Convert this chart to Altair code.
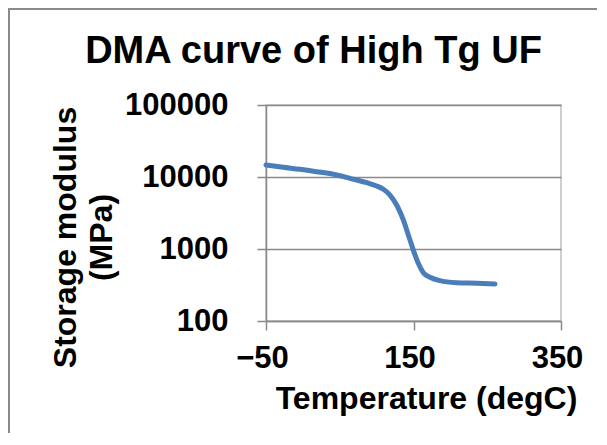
import altair as alt
import pandas as pd

# Curve
temperature = [-50, -26.5, -3.9, 18.7, 41.3, 63.9, 86.5, 100.1, 109.1, 118.1, 127.2,
               136.2, 143.0, 149.7, 156.5, 163.3, 172.4, 185.9, 208.6, 235.7, 260.5]
storage_modulus = [14680, 13650, 12800, 11860, 10900, 9590, 8340, 7500, 6750, 5620, 4080,
                   2530, 1565, 968, 632, 469, 405, 363, 340, 334, 327]

x_ticks = [-50, 150, 350]
y_ticks = [100, 1000, 10000, 100000]

df = pd.DataFrame({"T": temperature, "E": storage_modulus})

FONT = "Liberation Sans"

line = alt.Chart(df).mark_line(
    color="#4A7EBB", strokeWidth=5, strokeCap="round", strokeJoin="round",
    interpolate="monotone"
).encode(
    x=alt.X("T:Q",
            scale=alt.Scale(domain=[-50, 350], nice=False, zero=False),
            axis=alt.Axis(values=x_ticks, grid=False, format="d",
                          domainColor="#8a8a8a", domainWidth=1.5,
                          tickColor="#8a8a8a", tickWidth=1.5, tickSize=9,
                          labelFont=FONT, labelFontSize=31, labelFontWeight="bold",
                          labelColor="#000000", labelPadding=13, labelFlush=False,
                          labelOverlap=False, labelOffset=-4,
                          title="Temperature (degC)", titleFont=FONT, titleFontSize=32,
                          titleFontWeight="bold", titleColor="#000000",
                          titleX=160, titleY=87, titleBaseline="alphabetic",
                          titleAlign="center")),
    y=alt.Y("E:Q",
            scale=alt.Scale(type="log", domain=[100, 100000], nice=False),
            axis=alt.Axis(values=y_ticks, format="d", grid=True,
                          gridColor="#8a8a8a", gridWidth=1.5,
                          domainColor="#8a8a8a", domainWidth=1.5,
                          tickColor="#8a8a8a", tickWidth=1.5, tickSize=9,
                          labelFont=FONT, labelFontSize=31, labelFontWeight="bold",
                          labelColor="#000000", labelPadding=29,
                          labelOverlap=False,
                          title=["Storage modulus", "(MPa)"], titleFont=FONT,
                          titleFontSize=32, titleFontWeight="bold", titleColor="#000000",
                          titleAngle=270, titleX=-191, titleY=132,
                          titleBaseline="alphabetic", titleAlign="center",
                          titleLineHeight=36)),
)

border = alt.Chart(pd.DataFrame({"a": [0]})).mark_rect(
    fill=None, stroke="#8a8a8a", strokeWidth=2
).encode(
    x=alt.value(-257), x2=alt.value(400),
    y=alt.value(-96), y2=alt.value(400),
)

chart = alt.layer(border, line).properties(
    width=295,
    height=216,
    autosize=alt.AutoSizeParams(type="none"),
    padding={"left": 258, "top": 97, "right": 36, "bottom": 112},
    title=alt.TitleParams("DMA curve of High Tg UF", font=FONT, fontSize=38,
                          fontWeight="bold", color="#000000", anchor="middle",
                          frame="group", dx=-100, dy=97, baseline="alphabetic"),
).configure_view(stroke="#c0c0c0", strokeWidth=1.5)

chart.save("out.html", embed_options={"renderer": "svg", "actions": False})
